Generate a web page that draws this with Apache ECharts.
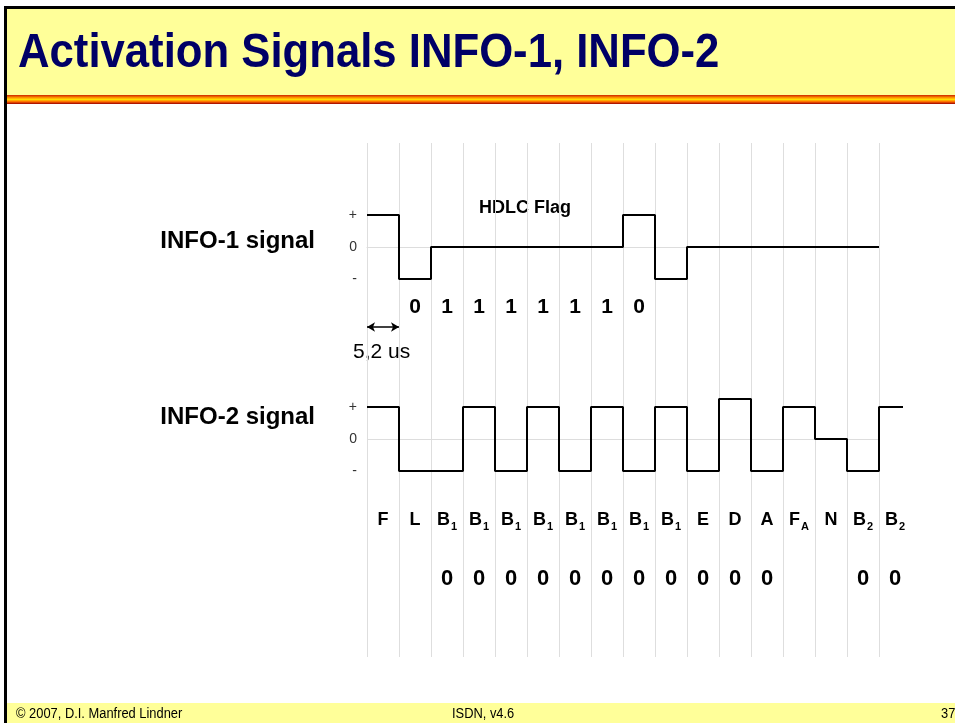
<!DOCTYPE html>
<html>
<head>
<meta charset="utf-8">
<title>Activation Signals INFO-1, INFO-2</title>
<script src="https://cdn.jsdelivr.net/npm/echarts@6/dist/echarts.min.js"></script>
<style>
    html,body{margin:0;padding:0;background:#fff;}
    #main{width:955px;height:723px;}
</style>
</head>
<body>
<div id="main"></div>
<script>
// 信号电平 每格一个比特 (+1 / 0 / -1)
var info1Levels = [1,-1,0,0,0,0,0,0,1,-1,0,0,0,0,0,0];
var info2Levels = [1,-1,-1,1,-1,1,-1,1,-1,1,-1,1.25,-1,1,0,-1,1];
var info2End = 16.75;
var hdlcBits = ['','0','1','1','1','1','1','1','0','','','','','','',''];
var fieldNames = ['F','L','B1','B1','B1','B1','B1','B1','B1','B1','E','D','A','FA','N','B2','B2'];
var fieldZeros = ['','','0','0','0','0','0','0','0','0','0','0','0','','','0','0'];
var levelMarks = {'1':'+','0':'0','-1':'-'};
var bitWidth = [0,1];   // 5,2 us

var font = "'Liberation Sans', Arial, sans-serif";

function stepData(levels, endX){
    var arr = [];
    for(var i=0;i<levels.length;i++){
        arr.push([i, levels[i]]);
    }
    arr.push([endX, levels[levels.length-1]]);
    return arr;
}

function fieldFormatter(v){
    if(v.length == 2){
        return '{b|' + v.charAt(0) + '}{s|' + v.charAt(1) + '}';
    }
    return '{b|' + v + '}';
}

var myChart = echarts.init(document.getElementById('main'), null, {renderer:'canvas'});

var valueX = function(grid, max, showLine){
    return {
        type:'value', gridIndex:grid, min:0, max:max, interval:1,
        axisLine:{show:showLine, onZero:true, lineStyle:{color:'#dddddd', width:1}},
        axisTick:{show:false}, axisLabel:{show:false}, splitLine:{show:false}
    };
};
var levelY = function(grid, min){
    return {
        type:'value', gridIndex:grid, min:min, max:2, interval:1,
        axisLine:{show:false}, axisTick:{show:false}, splitLine:{show:false},
        axisLabel:{
            margin:10, color:'#333', fontSize:14, fontFamily:font,
            formatter:function(v){ return levelMarks[String(v)] || ''; }
        }
    };
};

var option = {
    backgroundColor:'#ffffff',
    animation:false,
    graphic:[
        // 标题栏
        {type:'rect', shape:{x:6, y:9, width:955, height:86}, style:{fill:'#ffff99'}, z:-10},
        {type:'rect', shape:{x:6, y:95, width:955, height:9}, z:-10,
            style:{fill:new echarts.graphic.LinearGradient(0,0,0,1,[
                {offset:0, color:'#cc2200'},
                {offset:0.3, color:'#ff9900'},
                {offset:0.5, color:'#ffdd00'},
                {offset:0.75, color:'#ff6600'},
                {offset:1, color:'#990000'}
            ])}},
        {type:'rect', shape:{x:4, y:6, width:955, height:3}, style:{fill:'#000'}, z:-5},
        {type:'rect', shape:{x:4, y:6, width:3, height:720}, style:{fill:'#000'}, z:-5},
        {type:'text', x:18, y:30, scaleX:0.91, z:5,
            style:{text:'Activation Signals INFO-1, INFO-2', fill:'#000066',
                font:'bold 48px ' + font}},
        // 页脚
        {type:'rect', shape:{x:7, y:703, width:955, height:20}, style:{fill:'#ffff99'}, z:-10},
        {type:'text', x:16, y:707, scaleX:0.92, style:{text:'\u00a9 2007, D.I. Manfred Lindner', fill:'#000', font:'14px ' + font}},
        {type:'text', x:452, y:707, scaleX:0.92, style:{text:'ISDN, v4.6', fill:'#000', font:'14px ' + font}},
        {type:'text', x:941, y:707, scaleX:0.92, style:{text:'37', fill:'#000', font:'14px ' + font}},
        // 信号名称和注释
        {type:'text', right:640, top:229, style:{text:'INFO-1 signal', fill:'#000', font:'bold 24px ' + font}},
        {type:'text', right:640, top:405, style:{text:'INFO-2 signal', fill:'#000', font:'bold 24px ' + font}},
        {type:'text', left:479, top:199, style:{text:'HDLC Flag', fill:'#000', font:'bold 18px ' + font}},
        {type:'text', left:353, top:342, style:{text:'5,2 us', fill:'#000', font:'21px ' + font}}
    ],
    grid:[
        {left:367, top:183, width:512, height:160},
        {left:367, top:375, width:544, height:128},
        {left:367, top:520, width:544, height:59},
        {left:367, top:143, width:512, height:514}
    ],
    xAxis:[
        valueX(0, 16, true),
        valueX(1, 17, false),
        {type:'category', gridIndex:2, position:'top', data:fieldNames,
            axisLine:{show:false}, axisTick:{show:false},
            axisLabel:{margin:0, verticalAlign:'middle', interval:0, formatter:fieldFormatter,
                rich:{
                    b:{fontSize:18, fontWeight:'bold', color:'#000', fontFamily:font},
                    s:{fontSize:11, fontWeight:'bold', color:'#000', fontFamily:font, padding:[14,0,0,1]}
                }}},
        {type:'category', gridIndex:2, position:'bottom', data:fieldZeros,
            axisLine:{show:false}, axisTick:{show:false},
            axisLabel:{margin:0, verticalAlign:'middle', interval:0, fontSize:22, fontWeight:'bold', color:'#000', fontFamily:font}},
        {type:'value', gridIndex:3, min:0, max:16, interval:1,
            axisLine:{show:false}, axisTick:{show:false}, axisLabel:{show:false},
            splitLine:{show:true, lineStyle:{color:'#dedede', width:1}}},
        {type:'category', gridIndex:0, position:'bottom', offset:-36, data:hdlcBits,
            axisLine:{show:false}, axisTick:{show:false},
            axisLabel:{margin:0, verticalAlign:'middle', interval:0, fontSize:21, fontWeight:'bold', color:'#000', fontFamily:font}}
    ],
    yAxis:[
        levelY(0, -3),
        levelY(1, -2),
        {type:'value', gridIndex:2, show:false},
        {type:'value', gridIndex:3, show:false, min:0, max:1}
    ],
    series:[
        {
            name:'INFO-1', type:'line', step:'end', xAxisIndex:0, yAxisIndex:0,
            data:stepData(info1Levels, 16), symbol:'none',
            lineStyle:{color:'#000', width:2},
            markLine:{
                silent:true, symbol:['arrow','arrow'], symbolSize:[7,8],
                label:{show:false},
                lineStyle:{color:'#000', width:1.5, type:'solid'},
                data:[[{coord:[bitWidth[0], -2.5]},{coord:[bitWidth[1], -2.5]}]]
            }
        },
        {
            name:'INFO-2', type:'line', step:'end', xAxisIndex:1, yAxisIndex:1,
            data:stepData(info2Levels, info2End), symbol:'none',
            lineStyle:{color:'#000', width:2},
            // 零电平基线
            markLine:{
                silent:true, symbol:['none','none'], z:1,
                label:{show:false},
                lineStyle:{color:'#dddddd', width:1, type:'solid'},
                data:[[{coord:[0, 0]},{coord:[16, 0]}]]
            }
        }
    ]
};

myChart.setOption(option);
window.addEventListener('resize', function(){
    myChart.resize();
});
</script>
</body>
</html>
